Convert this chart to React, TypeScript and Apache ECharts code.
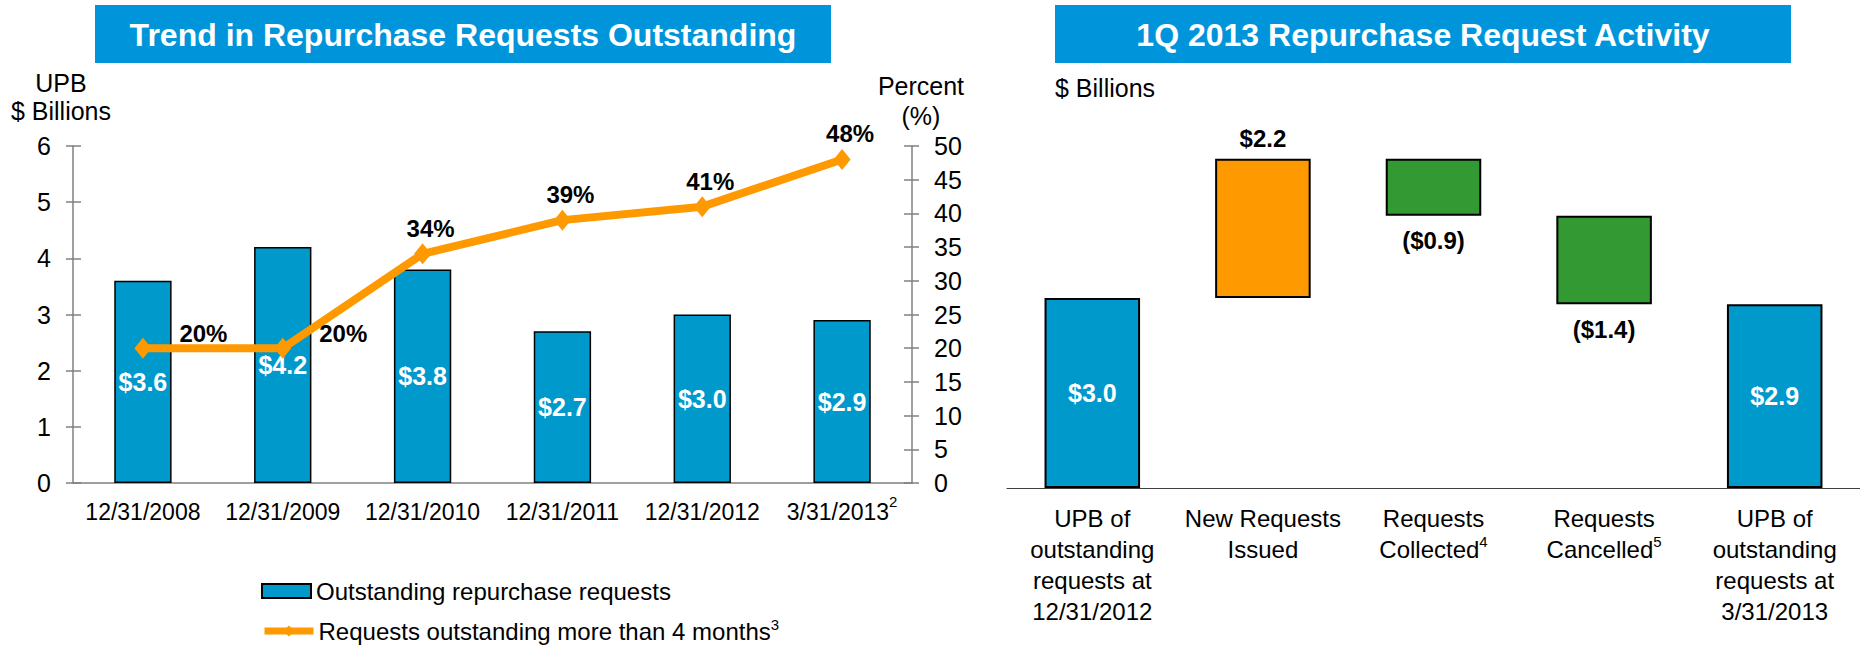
import React, { useEffect, useRef } from "react";
import * as echarts from "echarts";

const FONT = '"Liberation Sans", Arial, Helvetica, sans-serif';
const BLUE = "#0099CC";
const ORANGE = "#FF9900";
const GREEN = "#339933";
const BANNER = "#0095DA";
const AXIS_GREY = "#808080";

// ---- Left chart: Trend in Repurchase Requests Outstanding ----
const trendCategories = ["12/31/2008", "12/31/2009", "12/31/2010", "12/31/2011", "12/31/2012", "3/31/2013"];
const trendFootnotes = ["", "", "", "", "", "2"];
const outstandingUPB = [3.6, 4.2, 3.8, 2.7, 3.0, 2.9];
const pctOver4Months = [20, 20, 34, 39, 41, 48];
const barSeriesName = "Outstanding repurchase requests";
const lineSeriesName = "Requests outstanding more than 4 months";
const lineLegendFootnote = "3";
const upbAxis = { min: 0, max: 6, interval: 1 };
const pctAxis = { min: 0, max: 50, interval: 5 };

// ---- Right chart: 1Q 2013 Repurchase Request Activity ----
const activityCategories = [
  "UPB of\noutstanding\nrequests at\n12/31/2012",
  "New Requests\nIssued",
  "Requests\nCollected",
  "Requests\nCancelled",
  "UPB of\noutstanding\nrequests at\n3/31/2013",
];
const activityFootnotes = ["", "", "4", "5", ""];
const activityKinds = ["total", "change", "change", "change", "total"];
const activityValues = [3.0, 2.2, -0.9, -1.4, 2.9];
const activityAxis = { min: 0, max: 6 };

function buildWaterfall() {
  const base: number[] = [];
  const height: number[] = [];
  let running = 0;
  activityValues.forEach((v, i) => {
    if (activityKinds[i] === "total") {
      base.push(0);
      height.push(v);
      running = v;
    } else if (v >= 0) {
      base.push(running);
      height.push(v);
      running += v;
    } else {
      running += v;
      base.push(running);
      height.push(-v);
    }
  });
  return { base, height };
}

export default function App() {
  const ref = useRef<HTMLDivElement | null>(null);

  useEffect(() => {
    if (!ref.current) return;
    const chart = echarts.init(ref.current, undefined, { renderer: "svg" });
    const wf = buildWaterfall();

    const wfData = wf.height.map((h, i) => {
      const v = activityValues[i];
      const kind = activityKinds[i];
      const isTotal = kind === "total";
      const color = isTotal ? BLUE : v >= 0 ? ORANGE : GREEN;
      const text = isTotal || v >= 0 ? "$" + Math.abs(v).toFixed(1) : "($" + Math.abs(v).toFixed(1) + ")";
      return {
        value: h,
        itemStyle: { color, borderColor: "#000", borderWidth: 2 },
        label: isTotal
          ? { show: true, position: "inside", formatter: text, color: "#fff", fontWeight: "bold", fontSize: 25, fontFamily: FONT }
          : {
              show: true,
              position: v >= 0 ? "top" : "bottom",
              distance: v >= 0 ? 8 : 13,
              formatter: text,
              color: "#000",
              fontWeight: "bold",
              fontSize: 24,
              fontFamily: FONT,
            },
      };
    });

    const tickStyle = { color: AXIS_GREY, width: 1.5 };
    const legendRich = {
      t: { fontSize: 24, color: "#000", fontFamily: FONT, lineHeight: 28 },
      sup: { fontSize: 15, color: "#000", fontFamily: FONT, lineHeight: 12, verticalAlign: "top" },
    };
    const legendBase = {
      orient: "vertical",
      left: 256,
      itemWidth: 49,
      itemHeight: 14,
      selectedMode: false,
      formatter: (name: string) =>
        name === lineSeriesName ? `{t|${name}}{sup|${lineLegendFootnote}}` : `{t|${name}}`,
      textStyle: { rich: legendRich },
    };

    const option: any = {
      animation: false,
      textStyle: { fontFamily: FONT },
      grid: [
        { left: 73, top: 146, width: 839, height: 337 },
        { left: 1007, top: 108, width: 853, height: 380 },
      ],
      legend: [
        { ...legendBase, top: 574, data: [{ name: barSeriesName, icon: "rect" }] },
        {
          ...legendBase,
          top: 612,
          lineStyle: { width: 7, color: ORANGE },
          data: [{ name: lineSeriesName, lineStyle: { width: 7, color: ORANGE } }],
        },
      ],
      xAxis: [
        {
          type: "category",
          gridIndex: 0,
          data: trendCategories,
          axisLine: { lineStyle: tickStyle },
          axisTick: { length: 7, lineStyle: tickStyle },
          axisLabel: {
            interval: 0,
            margin: 11,
            formatter: (value: string, index: number) =>
              `{t|${value}}` + (trendFootnotes[index] ? `{sup|${trendFootnotes[index]}}` : ""),
            rich: {
              t: { fontSize: 23, color: "#000", fontFamily: FONT, lineHeight: 36 },
              sup: { fontSize: 15, color: "#000", fontFamily: FONT, lineHeight: 12, verticalAlign: "top" },
            },
          },
          splitLine: { show: false },
        },
        {
          type: "category",
          gridIndex: 0,
          position: "bottom",
          data: trendCategories,
          axisLine: { show: false },
          axisTick: { inside: true, length: 6, lineStyle: tickStyle },
          axisLabel: { show: false },
          splitLine: { show: false },
        },
        {
          type: "category",
          gridIndex: 1,
          data: activityCategories,
          axisLine: { lineStyle: { color: "#404040", width: 1.2 } },
          axisTick: { length: 7, lineStyle: { color: "#404040", width: 1.2 } },
          axisLabel: {
            interval: 0,
            margin: 15,
            formatter: (value: string, index: number) =>
              value
                .split("\n")
                .map((l) => `{t|${l}}`)
                .join("\n") + (activityFootnotes[index] ? `{sup|${activityFootnotes[index]}}` : ""),
            rich: {
              t: { fontSize: 24, color: "#000", fontFamily: FONT, lineHeight: 31 },
              sup: { fontSize: 15, color: "#000", fontFamily: FONT, lineHeight: 12, verticalAlign: "top" },
            },
          },
          splitLine: { show: false },
        },
      ],
      yAxis: [
        {
          type: "value",
          gridIndex: 0,
          position: "left",
          ...upbAxis,
          axisLine: { show: true, lineStyle: tickStyle },
          axisTick: { show: true, length: 7, lineStyle: tickStyle },
          axisLabel: { margin: 22, fontSize: 25, color: "#000", fontFamily: FONT },
          splitLine: { show: false },
        },
        {
          type: "value",
          gridIndex: 0,
          position: "right",
          ...pctAxis,
          axisLine: { show: true, lineStyle: tickStyle },
          axisTick: { show: true, length: 7, lineStyle: tickStyle },
          axisLabel: { margin: 22, fontSize: 25, color: "#000", fontFamily: FONT },
          splitLine: { show: false },
        },
        {
          type: "value",
          gridIndex: 0,
          position: "left",
          ...upbAxis,
          axisLine: { show: false },
          axisTick: { show: true, inside: true, length: 8, lineStyle: tickStyle },
          axisLabel: { show: false },
          splitLine: { show: false },
        },
        {
          type: "value",
          gridIndex: 0,
          position: "right",
          ...pctAxis,
          axisLine: { show: false },
          axisTick: { show: true, inside: true, length: 8, lineStyle: tickStyle },
          axisLabel: { show: false },
          splitLine: { show: false },
        },
        {
          type: "value",
          gridIndex: 1,
          ...activityAxis,
          show: false,
        },
      ],
      series: [
        {
          name: barSeriesName,
          type: "bar",
          xAxisIndex: 0,
          yAxisIndex: 0,
          data: outstandingUPB,
          barWidth: "41%",
          itemStyle: { color: BLUE, borderColor: "#000", borderWidth: 1.5 },
          label: {
            show: true,
            position: "inside",
            formatter: (p: any) => "$" + Number(p.value).toFixed(1),
            color: "#fff",
            fontWeight: "bold",
            fontSize: 25,
            fontFamily: FONT,
          },
          z: 2,
        },
        {
          name: lineSeriesName,
          type: "line",
          xAxisIndex: 0,
          yAxisIndex: 1,
          data: pctOver4Months.map((v, i) =>
            i < 2 ? { value: v, label: { position: "right", distance: 28, offset: [0, -15] } } : { value: v }
          ),
          symbol: "diamond",
          symbolSize: [17, 21],
          lineStyle: { color: ORANGE, width: 8 },
          itemStyle: { color: ORANGE },
          label: {
            show: true,
            position: "top",
            distance: 3,
            offset: [8, 0],
            formatter: "{c}%",
            color: "#000",
            fontWeight: "bold",
            fontSize: 24,
            fontFamily: FONT,
          },
          z: 5,
        },
        {
          name: "base",
          type: "bar",
          xAxisIndex: 2,
          yAxisIndex: 4,
          stack: "wf",
          data: wf.base,
          barWidth: "56%",
          silent: true,
          itemStyle: { color: "rgba(0,0,0,0)", borderWidth: 0 },
          label: { show: false },
        },
        {
          name: "activity",
          type: "bar",
          xAxisIndex: 2,
          yAxisIndex: 4,
          stack: "wf",
          data: wfData,
          barWidth: "56%",
        },
      ],
      graphic: [
        { type: "rect", shape: { x: 95, y: 5, width: 736, height: 58 }, style: { fill: BANNER }, silent: true },
        {
          type: "text",
          style: {
            text: "Trend in Repurchase Requests Outstanding",
            x: 463,
            y: 35,
            fill: "#fff",
            fontSize: 32,
            fontWeight: "bold",
            fontFamily: FONT,
            align: "center",
            verticalAlign: "middle",
            textAlign: "center",
            textVerticalAlign: "middle",
          },
        },
        { type: "rect", shape: { x: 1055, y: 5, width: 736, height: 58 }, style: { fill: BANNER }, silent: true },
        {
          type: "text",
          style: {
            text: "1Q 2013 Repurchase Request Activity",
            x: 1423,
            y: 35,
            fill: "#fff",
            fontSize: 32,
            fontWeight: "bold",
            fontFamily: FONT,
            align: "center",
            verticalAlign: "middle",
            textAlign: "center",
            textVerticalAlign: "middle",
          },
        },
        {
          type: "text",
          style: {
            text: "UPB\n$ Billions",
            x: 61,
            y: 69,
            fill: "#000",
            fontSize: 25,
            lineHeight: 28,
            fontFamily: FONT,
            align: "center",
            verticalAlign: "top",
            textAlign: "center",
            textVerticalAlign: "top",
          },
        },
        {
          type: "text",
          style: {
            text: "Percent\n(%)",
            x: 921,
            y: 71,
            fill: "#000",
            fontSize: 25,
            lineHeight: 30,
            fontFamily: FONT,
            align: "center",
            verticalAlign: "top",
            textAlign: "center",
            textVerticalAlign: "top",
          },
        },
        {
          type: "text",
          style: {
            text: "$ Billions",
            x: 1055,
            y: 74,
            fill: "#000",
            fontSize: 25,
            lineHeight: 28,
            fontFamily: FONT,
            align: "left",
            verticalAlign: "top",
            textAlign: "left",
            textVerticalAlign: "top",
          },
        },
      ],
    };

    chart.setOption(option);
    return () => chart.dispose();
  }, []);

  return (
    <div
      ref={ref}
      style={{ position: "fixed", left: 0, top: 0, width: 1860, height: 645, background: "#fff" }}
    />
  );
}
